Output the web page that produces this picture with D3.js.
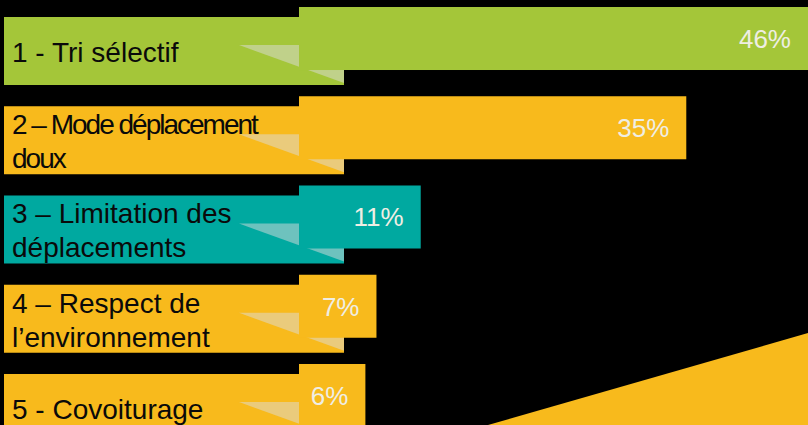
<!DOCTYPE html>
<html>
<head>
<meta charset="utf-8">
<script src="https://cdn.jsdelivr.net/npm/d3@7"></script>
<style>
  html, body { margin: 0; padding: 0; background: #000; }
  svg { display: block; }
</style>
</head>
<body>
<svg id="chart" width="808" height="425"></svg>
<script>
// Survey themes, share of answers (%)
const categories = ["1", "2", "3", "4", "5"];
const labelLines = [
  ["1 - Tri sélectif"],
  ["2 – Mode déplacement", "doux"],
  ["3 – Limitation des", "déplacements"],
  ["4 – Respect de", "l’environnement"],
  ["5 - Covoiturage"]
];
const values = [46, 35, 11, 7, 6];
const valueLabels = ["46%", "35%", "11%", "7%", "6%"];
const barColors = ["#A4C639", "#F8BA1C", "#00A9A0", "#F8BA1C", "#F8BA1C"];
const condensedRows = [1];

const W = 808, H = 425;
const svg = d3.select("#chart");

svg.append("rect").attr("width", W).attr("height", H).attr("fill", "#000");

const x = d3.scaleLinear().domain([0, 46]).range([299, 808]);
const y = d3.scaleBand().domain(categories).range([7, 427]).paddingInner(0.294).paddingOuter(0);

const boxLeft = 4, boxRight = 344, boxOffset = 10, boxH = 68;

const rows = svg.selectAll("g.row")
  .data(categories.map((c, i) => ({ c, i, v: values[i], lines: labelLines[i], lab: valueLabels[i], color: barColors[i] })))
  .join("g").attr("class", "row");

// label panel
rows.append("rect")
  .attr("x", boxLeft)
  .attr("y", d => y(d.c) + boxOffset)
  .attr("width", boxRight - boxLeft)
  .attr("height", boxH)
  .attr("fill", d => d.color);

// folded-ribbon highlight
rows.append("path")
  .attr("d", d => {
    const t = y(d.c) + 38;
    return `M239,${t}L${boxRight},${t}L${boxRight},${t + 38}Z`;
  })
  .attr("fill", "#dcdcdc")
  .attr("fill-opacity", 0.5);

// value bar
rows.append("rect")
  .attr("x", x(0))
  .attr("y", d => y(d.c))
  .attr("width", d => x(d.v) - x(0))
  .attr("height", y.bandwidth())
  .attr("fill", d => d.color);

// category label text
rows.each(function (d) {
  const g = d3.select(this);
  const top = y(d.c) + boxOffset;
  const tight = condensedRows.includes(d.i);
  const first = d.lines.length === 1 ? top + 45 : top + 28;
  d.lines.forEach((line, k) => {
    g.append("text")
      .attr("x", boxLeft + 8)
      .attr("y", first + k * 34)
      .attr("font-family", "'Liberation Sans', Arial, sans-serif")
      .attr("font-size", 28)
      .attr("letter-spacing", tight ? -2 : 0)
      .attr("fill", "#0a0a0a")
      .text(line);
  });
});

// value label
rows.append("text")
  .attr("x", d => x(d.v) - 17)
  .attr("y", d => y(d.c) + 41)
  .attr("text-anchor", "end")
  .attr("font-family", "'Liberation Sans', Arial, sans-serif")
  .attr("font-size", 26)
  .attr("fill", "#efeee4")
  .text(d => d.lab);

// decorative corner wedge
svg.append("path")
  .attr("d", `M488,${H}L${W},333L${W},${H}Z`)
  .attr("fill", "#F8BA1C");
</script>
</body>
</html>
